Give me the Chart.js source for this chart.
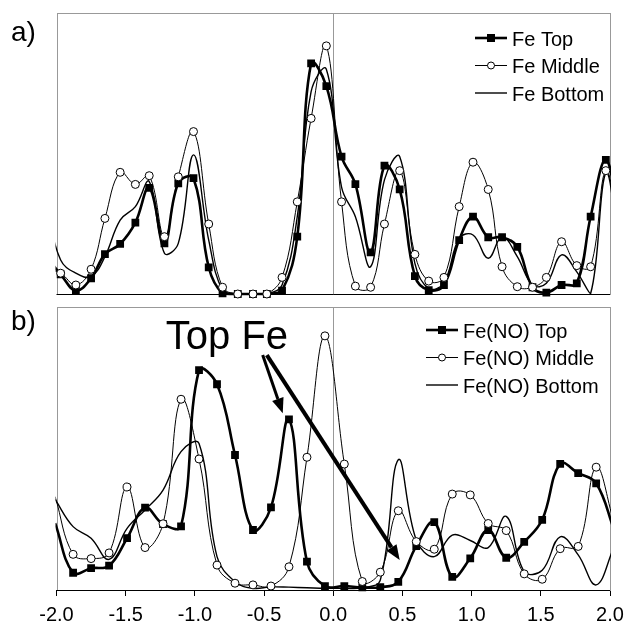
<!DOCTYPE html>
<html>
<head>
<meta charset="utf-8">
<script src="https://cdn.jsdelivr.net/npm/chart.js@4.4.1/dist/chart.umd.min.js"></script>
<style>
  html, body { margin: 0; padding: 0; background: #fff; overflow: hidden; }
  #wrap { position: relative; width: 625px; height: 627px; overflow: hidden; }
  .panel { position: absolute; left: 0; width: 625px; }
  #pa { top: 0; height: 300px; }
  #pb { top: 300px; height: 340px; }
</style>
</head>
<body>
<div id="wrap">
  <div class="panel" id="pa"><canvas id="chartA" width="625" height="300"></canvas></div>
  <div class="panel" id="pb"><canvas id="chartB" width="625" height="340"></canvas></div>
</div>
<script>
// --- panel a) : Fe ---------------------------------------------------------
const xA = [-2.07, -1.97, -1.86, -1.75, -1.65, -1.54, -1.43, -1.33, -1.22, -1.12,
            -1.01, -0.90, -0.80, -0.69, -0.58, -0.48, -0.37, -0.26, -0.16, -0.05,
             0.06, 0.16, 0.27, 0.37, 0.48, 0.59, 0.69, 0.80, 0.91, 1.01,
             1.12, 1.22, 1.33, 1.44, 1.54, 1.65, 1.76, 1.86, 1.97, 2.07];
const feTop = [13, 7, 1.2, 5.6, 14.2, 17.8, 25.4, 37.8, 18.0, 39.4,
               41.2, 9.5, 0.2, 0, 0, 0, 1.2, 20.4, 82.1, 74.0,
               48.9, 39.1, 14.8, 45.7, 37.2, 6.4, 1.4, 3.2, 19.2, 27.5,
               20.2, 20.2, 16.8, 2.4, 0.5, 3.2, 3.8, 27.5, 47.7, 25];
const feMiddle = [9, 7.4, 3.2, 8.8, 26.9, 43.3, 39.0, 42.1, 20.4, 41.7,
                  57.8, 24.9, 2.4, 0, 0, 0, 5.9, 32.8, 62.5, 88.3,
                  32.8, 2.8, 2.4, 24.9, 43.9, 14.1, 4.6, 5.9, 31.1, 46.9,
                  37.2, 9.7, 2.6, 2.4, 5.9, 18.6, 10.1, 9.7, 43.9, 20];
const feBottom = [30, 12.1, 7.4, 6.2, 13.3, 26.3, 31.1, 40.0, 14.5, 18.0,
                  49.5, 19.2, 1.4, 0, 0, 0, 3.2, 27.5, 72, 80,
                  38, 27.5, 9.7, 40.6, 48.9, 10.9, 2.0, 4.0, 19.8, 21.0,
                  12.7, 20.4, 13.3, 3.2, 3.8, 13.9, 7.9, 0.2, 43.0, 15];

// --- panel b) : Fe(NO) -----------------------------------------------------
const xB = [-2.01, -1.88, -1.75, -1.62, -1.49, -1.36, -1.23, -1.10, -0.97, -0.84,
            -0.71, -0.58, -0.45, -0.32, -0.19, -0.06, 0.08, 0.21, 0.34, 0.47,
             0.60, 0.73, 0.86, 0.99, 1.12, 1.25, 1.38, 1.51, 1.64, 1.77,
             1.90, 2.03];
const feNoTop = [23.6, 6.1, 7.7, 8.6, 18.3, 29.1, 23.3, 22.5, 77.7, 72.7,
                 47.7, 21.2, 29.2, 60.3, 10.0, 1.4, 1.4, 0.9, 1.0, 2.9,
                 15.5, 24.0, 4.6, 11.2, 21.2, 11.4, 17.0, 24.8, 44.6, 41.3,
                 37.7, 21.2];
const feNoMiddle = [33, 12.6, 11.1, 13.1, 36.4, 15.0, 23.4, 67.4, 46.3, 8.8,
                    2.4, 1.8, 1.4, 8.2, 46.9, 89.8, 44.5, 3.0, 6.3, 28.0,
                    17.1, 14.4, 33.9, 33.6, 23.5, 21.0, 5.7, 3.8, 14.6, 15.4,
                    43.4, 23.7];
const feNoBottom = [32, 22.4, 18.3, 10.8, 21.8, 28.3, 35.3, 48.9, 51.8, 11.8,
                    2.9, 0.6, 1.1, 1.0, 0.8, 0.6, 0.6, 0.8, 3.5, 46,
                    17.7, 11.8, 19.4, 17.5, 15, 26, 6.5, 7, 18.8, 12.4,
                    1.8, 15.3];

const labelsA = ['Fe Top', 'Fe Middle', 'Fe Bottom'];
const labelsB = ['Fe(NO) Top', 'Fe(NO) Middle', 'Fe(NO) Bottom'];

const FONT = '"Liberation Sans", Arial, sans-serif';
Chart.defaults.font.family = FONT;
Chart.defaults.color = '#000';

function toPoints(xs, ys) {
    return xs.map((x, i) => ({ x: x, y: ys[i] }));
}

// markers only for points inside the -2..2 window
function markerSize(r) {
    return c => (c.raw && (c.raw.x < -2 || c.raw.x > 2)) ? 0 : r;
}

function buildDatasets(labels, xs, top, mid, bot) {
    return [
        {
            label: labels[0], data: toPoints(xs, top), order: 1,
            borderColor: '#000', borderWidth: 2.6, tension: 0.4,
            pointStyle: 'rect', pointRadius: markerSize(5.5), pointBorderWidth: 0,
            pointBackgroundColor: '#000',
            clip: { left: 1, right: 1, top: 6, bottom: 6 }
        },
        {
            label: labels[1], data: toPoints(xs, mid), order: 0,
            borderColor: '#000', borderWidth: 1, tension: 0.4,
            pointStyle: 'circle', pointRadius: markerSize(4), pointBorderWidth: 1,
            pointBackgroundColor: '#fff', pointBorderColor: '#000',
            clip: { left: 1, right: 1, top: 6, bottom: 6 }
        },
        {
            label: labels[2], data: toPoints(xs, bot), order: 2,
            borderColor: '#000', borderWidth: 1.4, tension: 0.4,
            pointRadius: 0,
            clip: { left: 1, right: 1, top: 2, bottom: 1 }
        }
    ];
}

// gray box, zero line and black base line
const framePlugin = {
    id: 'frame',
    beforeDatasetsDraw(chart) {
        const { ctx, chartArea: a, scales: { x } } = chart;
        ctx.save();
        ctx.strokeStyle = '#999';
        ctx.lineWidth = 1;
        ctx.strokeRect(Math.round(a.left) + 0.5, Math.round(a.top) + 0.5,
                       Math.round(a.width) - 1, Math.round(a.height));
        const x0 = Math.round(x.getPixelForValue(0)) + 0.5;
        ctx.beginPath();
        ctx.moveTo(x0, a.top);
        ctx.lineTo(x0, a.bottom);
        ctx.stroke();
        ctx.strokeStyle = '#000';
        ctx.beginPath();
        ctx.moveTo(a.left, Math.round(a.bottom) + 0.5);
        ctx.lineTo(a.right, Math.round(a.bottom) + 0.5);
        ctx.stroke();
        ctx.restore();
    }
};

// legend drawn inside the plot, Excel style
function legendPlugin(left, top, panelLabel, labelY) {
    return {
        id: 'boxLegend',
        afterDraw(chart) {
            const ctx = chart.ctx;
            const order = [0, 1, 2];
            ctx.save();
            ctx.font = '20px ' + FONT;
            ctx.fillStyle = '#000';
            ctx.textBaseline = 'alphabetic';
            order.forEach((idx, row) => {
                const ds = chart.data.datasets[idx];
                const y = top + row * 27.5;
                ctx.strokeStyle = '#000';
                ctx.lineWidth = ds.borderWidth;
                ctx.beginPath();
                ctx.moveTo(left, y);
                ctx.lineTo(left + 32, y);
                ctx.stroke();
                const cx = left + 16;
                if (ds.pointStyle === 'rect') {
                    ctx.fillRect(cx - 4, y - 4, 8, 8);
                } else if (ds.pointStyle === 'circle') {
                    ctx.beginPath();
                    ctx.arc(cx, y, 3.5, 0, Math.PI * 2);
                    ctx.fillStyle = '#fff';
                    ctx.fill();
                    ctx.lineWidth = 1;
                    ctx.stroke();
                    ctx.fillStyle = '#000';
                }
                ctx.fillText(ds.label, left + 37, y + 7.5);
            });
            ctx.font = '28px ' + FONT;
            ctx.fillText(panelLabel, 11, labelY);
            ctx.restore();
        }
    };
}

// "Top Fe" note with its two arrows (panel b)
const noteText = 'Top Fe';
const notePos = { x: -1.21, y: 85 };
const arrows = [
    { from: { x: -0.51, y: 83 }, to: { x: -0.365, y: 62.5 }, width: 3 },
    { from: { x: -0.48, y: 83 }, to: { x: 0.48, y: 10.6 }, width: 4 }
];

const notePlugin = {
    id: 'note',
    afterDatasetsDraw(chart) {
        const { ctx, scales: { x, y } } = chart;
        ctx.save();
        ctx.fillStyle = '#000';
        ctx.strokeStyle = '#000';
        ctx.font = '40px ' + FONT;
        ctx.textBaseline = 'alphabetic';
        ctx.fillText(noteText, x.getPixelForValue(notePos.x), y.getPixelForValue(notePos.y));
        arrows.forEach(a => {
            const x1 = x.getPixelForValue(a.from.x), y1 = y.getPixelForValue(a.from.y);
            const x2 = x.getPixelForValue(a.to.x), y2 = y.getPixelForValue(a.to.y);
            const ang = Math.atan2(y2 - y1, x2 - x1);
            const headLen = 15, headW = 6;
            const bx = x2 - headLen * Math.cos(ang), by = y2 - headLen * Math.sin(ang);
            ctx.lineWidth = a.width;
            ctx.beginPath();
            ctx.moveTo(x1, y1);
            ctx.lineTo(bx, by);
            ctx.stroke();
            ctx.beginPath();
            ctx.moveTo(x2, y2);
            ctx.lineTo(bx + headW * Math.sin(ang), by - headW * Math.cos(ang));
            ctx.lineTo(bx - headW * Math.sin(ang), by + headW * Math.cos(ang));
            ctx.closePath();
            ctx.fill();
        });
        ctx.restore();
    }
};

function baseOptions(padding, showTicks) {
    return {
        responsive: false,
        animation: false,
        devicePixelRatio: 1,
        layout: { padding: padding },
        plugins: { legend: { display: false }, tooltip: { enabled: false } },
        scales: {
            x: {
                type: 'linear', min: -2, max: 2,
                display: showTicks,
                grid: { drawOnChartArea: false, drawTicks: true, tickLength: 6, color: '#000' },
                border: { display: false },
                ticks: {
                    stepSize: 0.5, autoSkip: false, maxRotation: 0, padding: 7,
                    font: { size: 20 }, color: '#000',
                    callback: v => Number(v).toFixed(1)
                },
                // fixed axis box so the plot area keeps its place
                afterFit: scale => {
                    if (!showTicks) return;
                    scale.height = 40;
                    scale.paddingLeft = 0;
                    scale.paddingRight = 0;
                }
            },
            y: { type: 'linear', min: 0, max: 100, display: false }
        }
    };
}

new Chart(document.getElementById('chartA'), {
    type: 'line',
    data: { datasets: buildDatasets(labelsA, xA, feTop, feMiddle, feBottom) },
    options: baseOptions({ left: 56.5, right: 15, top: 13, bottom: 6 }, false),
    plugins: [framePlugin, legendPlugin(475, 38, 'a)', 41)]
});

new Chart(document.getElementById('chartB'), {
    type: 'line',
    data: { datasets: buildDatasets(labelsB, xB, feNoTop, feNoMiddle, feNoBottom) },
    options: baseOptions({ left: 56.5, right: 15, top: 7, bottom: 10 }, true),
    plugins: [framePlugin, notePlugin, legendPlugin(426, 30, 'b)', 30)]
});
</script>
</body>
</html>
